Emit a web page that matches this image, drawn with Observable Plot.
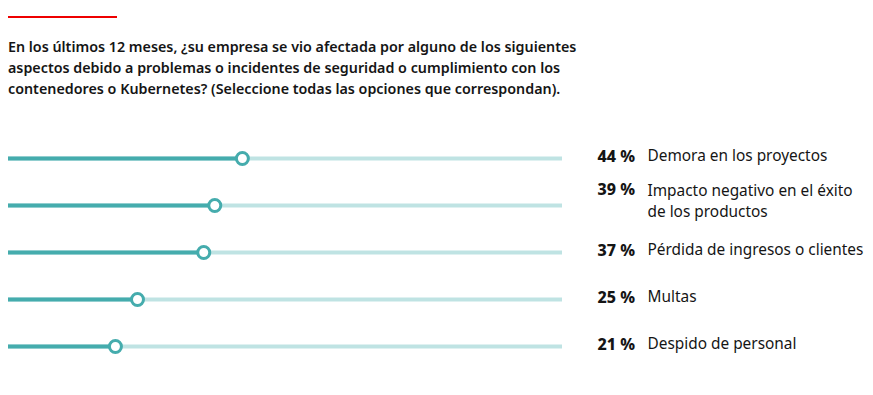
<!DOCTYPE html>
<html>
<head>
<meta charset="utf-8">
<script src="https://cdn.jsdelivr.net/npm/d3@7"></script>
<script src="https://cdn.jsdelivr.net/npm/@observablehq/plot@0.6"></script>
<style>
  html, body { margin: 0; padding: 0; background: #fff; }
  #head { position: relative; height: 110px; width: 873px; }
  #bar { position: absolute; left: 8px; top: 16px; width: 109px; height: 2px; background: #ee0000; }
  #title { position: absolute; left: 8px; top: 36px; margin: 0; font-family: "Noto Sans", sans-serif; font-weight: 600; font-size: 14.3px; line-height: 21px; color: #151515; white-space: nowrap; }
  #chart svg { display: block; }
</style>
</head>
<body>
<div id="head">
  <div id="bar"></div>
  <p id="title">En los últimos 12 meses, ¿su empresa se vio afectada por alguno de los siguientes<br>aspectos debido a problemas o incidentes de seguridad o cumplimiento con los<br>contenedores o Kubernetes? (Seleccione todas las opciones que correspondan).</p>
</div>
<div id="chart"></div>
<script>
const categories = [
  "Demora en los proyectos",
  "Impacto negativo en el éxito\nde los productos",
  "Pérdida de ingresos o clientes",
  "Multas",
  "Despido de personal"
];
const values = [44, 39, 37, 25, 21];
const valueLabels = ["44 %", "39 %", "37 %", "25 %", "21 %"];
const trackMax = 102;

const data = categories.map((c, i) => ({
  category: c,
  value: values[i],
  label: valueLabels[i],
  lines: c.split("\n").length
}));
const single = data.filter(d => d.lines === 1);
const multi = data.filter(d => d.lines > 1);

const dark = "#45acad";
const light = "#bfe3e3";
const font = "Noto Sans, sans-serif";

const plot = Plot.plot({
  width: 873,
  height: 285,
  marginLeft: 8,
  marginRight: 311,
  marginTop: 0,
  marginBottom: 0,
  x: {domain: [0, 100], range: [-1, 551], axis: null},
  y: {type: "point", domain: categories, range: [47, 237], padding: 0, axis: null},
  style: {fontFamily: font, fontSize: "15px", color: "#151515", background: "#fff"},
  marks: [
    Plot.ruleY(data, {y: "category", x1: 0, x2: trackMax, stroke: light, strokeWidth: 4, clip: true}),
    Plot.ruleY(data, {y: "category", x1: 0, x2: "value", stroke: dark, strokeWidth: 4, clip: true}),
    Plot.dot(data, {x: "value", y: "category", r: 6, fill: "#fff", stroke: dark, strokeWidth: 3}),
    Plot.text(single, {y: "category", text: "label", frameAnchor: "right", dx: 35, dy: -2, textAnchor: "start", fontWeight: 800, fontSize: 16, fill: "#151515"}),
    Plot.text(multi, {y: "category", text: "label", frameAnchor: "right", dx: 35, dy: -16, textAnchor: "start", fontWeight: 800, fontSize: 16, fill: "#151515"}),
    Plot.text(single, {y: "category", text: "category", frameAnchor: "right", dx: 85, dy: -2, textAnchor: "start", fontSize: 15.4, fill: "#151515"}),
    Plot.text(multi, {y: "category", text: "category", frameAnchor: "right", dx: 85, dy: -5.5, lineHeight: 1.36, textAnchor: "start", fontSize: 15.4, fill: "#151515"})
  ]
});
document.getElementById("chart").appendChild(plot);
</script>
</body>
</html>
